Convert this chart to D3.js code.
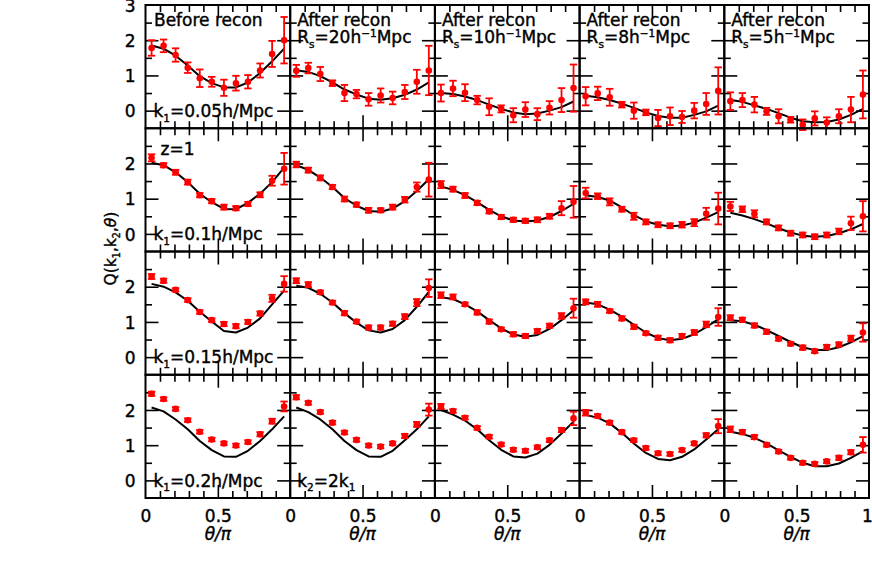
<!DOCTYPE html>
<html>
<head>
<meta charset="utf-8">
<script src="https://d3js.org/d3.v7.min.js"></script>
<style>
  body { margin: 0; background: #fff; }
  text { font-family: "DejaVu Sans", sans-serif; fill: #000; stroke: #000; stroke-width: 0.4px; }
</style>
</head>
<body>
<script>
// bin centres in theta/pi
var thetaBins = [0.042, 0.125, 0.208, 0.292, 0.375, 0.458, 0.542, 0.625, 0.708, 0.792, 0.875, 0.958];

var k1Labels = ["0.05", "0.1", "0.15", "0.2"];
var smoothingRs = [null, "20", "10", "8", "5"];

// k1 = 0.05 h/Mpc, one array per column (before recon, Rs = 20, 10, 8, 5)
var qK005 = [
    [1.78, 1.84, 1.58, 1.22, 0.92, 0.82, 0.65, 0.78, 0.82, 1.14, 1.61, 2.0],
    [1.13, 1.21, 1.04, 0.78, 0.50, 0.47, 0.32, 0.43, 0.36, 0.53, 0.82, 1.14],
    [0.50, 0.63, 0.51, 0.30, 0.11, 0.05, -0.13, 0.03, -0.10, 0.08, 0.30, 0.64],
    [0.41, 0.49, 0.38, 0.17, 0.00, -0.05, -0.21, -0.16, -0.18, 0.00, 0.19, 0.56],
    [0.27, 0.30, 0.17, -0.02, -0.16, -0.26, -0.40, -0.22, -0.34, -0.16, 0.03, 0.46]
];
var errK005 = [
    [0.22, 0.18, 0.19, 0.15, 0.25, 0.14, 0.23, 0.21, 0.19, 0.20, 0.37, 0.66],
    [0.17, 0.15, 0.20, 0.08, 0.23, 0.12, 0.18, 0.20, 0.18, 0.20, 0.34, 0.70],
    [0.24, 0.22, 0.24, 0.12, 0.24, 0.10, 0.20, 0.21, 0.17, 0.19, 0.34, 0.67],
    [0.26, 0.19, 0.24, 0.08, 0.23, 0.08, 0.23, 0.25, 0.17, 0.22, 0.31, 0.67],
    [0.25, 0.20, 0.22, 0.10, 0.20, 0.08, 0.15, 0.20, 0.15, 0.20, 0.36, 0.68]
];
var modelK005 = [
    [1.85, 1.76, 1.56, 1.28, 0.98, 0.78, 0.66, 0.66, 0.80, 1.07, 1.40, 1.76],
    [1.15, 1.10, 0.98, 0.80, 0.60, 0.46, 0.34, 0.31, 0.35, 0.45, 0.60, 0.80],
    [0.50, 0.47, 0.40, 0.30, 0.17, 0.05, -0.05, -0.10, -0.08, 0.00, 0.10, 0.26],
    [0.42, 0.38, 0.30, 0.20, 0.08, -0.05, -0.15, -0.20, -0.20, -0.12, -0.02, 0.14],
    [0.30, 0.25, 0.15, 0.05, -0.07, -0.20, -0.30, -0.33, -0.32, -0.25, -0.12, 0.05]
];

// k1 = 0.1 h/Mpc
var qK010 = [
    [2.16, 1.95, 1.75, 1.47, 1.10, 0.93, 0.76, 0.73, 0.85, 1.11, 1.51, 1.85],
    [1.97, 1.81, 1.59, 1.33, 0.99, 0.83, 0.67, 0.67, 0.76, 0.97, 1.33, 1.54],
    [1.40, 1.27, 1.09, 0.88, 0.64, 0.48, 0.40, 0.37, 0.40, 0.50, 0.73, 0.91],
    [1.16, 1.07, 0.91, 0.70, 0.50, 0.34, 0.26, 0.23, 0.26, 0.32, 0.57, 0.72],
    [0.78, 0.70, 0.57, 0.34, 0.17, 0.02, -0.03, -0.08, -0.03, 0.07, 0.30, 0.50]
];
var errK010 = [
    [0.10, 0.06, 0.07, 0.07, 0.06, 0.06, 0.07, 0.06, 0.06, 0.07, 0.14, 0.45],
    [0.08, 0.07, 0.07, 0.06, 0.07, 0.06, 0.07, 0.06, 0.07, 0.08, 0.13, 0.48],
    [0.10, 0.07, 0.07, 0.06, 0.06, 0.06, 0.06, 0.06, 0.07, 0.07, 0.20, 0.45],
    [0.15, 0.08, 0.10, 0.07, 0.10, 0.07, 0.07, 0.07, 0.08, 0.10, 0.17, 0.45],
    [0.13, 0.08, 0.10, 0.07, 0.07, 0.07, 0.07, 0.07, 0.07, 0.08, 0.19, 0.43]
];
var modelK010 = [
    [2.02, 1.95, 1.75, 1.47, 1.14, 0.90, 0.71, 0.70, 0.88, 1.14, 1.47, 1.88],
    [1.95, 1.82, 1.60, 1.33, 1.02, 0.80, 0.65, 0.63, 0.72, 0.93, 1.22, 1.55],
    [1.35, 1.25, 1.10, 0.90, 0.68, 0.50, 0.38, 0.35, 0.38, 0.48, 0.65, 0.85],
    [1.10, 1.05, 0.95, 0.75, 0.53, 0.36, 0.26, 0.22, 0.24, 0.32, 0.46, 0.62],
    [0.60, 0.52, 0.42, 0.30, 0.16, 0.04, -0.05, -0.08, -0.06, 0.02, 0.13, 0.28]
];

// k1 = 0.15 h/Mpc
var qK015 = [
    [2.29, 2.17, 1.91, 1.62, 1.28, 1.05, 0.94, 0.88, 1.00, 1.24, 1.67, 2.08],
    [2.17, 2.06, 1.84, 1.55, 1.25, 1.01, 0.84, 0.84, 0.95, 1.15, 1.55, 1.96],
    [1.76, 1.71, 1.50, 1.27, 1.01, 0.79, 0.65, 0.60, 0.74, 0.89, 1.17, 1.39],
    [1.57, 1.50, 1.31, 1.10, 0.86, 0.68, 0.55, 0.48, 0.60, 0.70, 0.93, 1.14],
    [1.12, 1.06, 0.90, 0.72, 0.52, 0.38, 0.27, 0.17, 0.29, 0.36, 0.53, 0.70]
];
var errK015 = [
    [0.07, 0.06, 0.05, 0.05, 0.05, 0.05, 0.06, 0.06, 0.06, 0.06, 0.10, 0.22],
    [0.07, 0.07, 0.05, 0.05, 0.06, 0.05, 0.06, 0.06, 0.06, 0.07, 0.10, 0.25],
    [0.08, 0.07, 0.05, 0.06, 0.06, 0.05, 0.06, 0.06, 0.06, 0.06, 0.08, 0.27],
    [0.07, 0.07, 0.05, 0.06, 0.06, 0.05, 0.06, 0.06, 0.06, 0.07, 0.08, 0.25],
    [0.07, 0.06, 0.06, 0.06, 0.05, 0.05, 0.06, 0.05, 0.06, 0.06, 0.08, 0.26]
];
var modelK015 = [
    [2.08, 2.00, 1.84, 1.60, 1.29, 1.01, 0.74, 0.70, 0.84, 1.10, 1.50, 1.89],
    [2.03, 1.97, 1.80, 1.55, 1.25, 0.98, 0.76, 0.70, 0.80, 1.05, 1.43, 1.85],
    [1.70, 1.65, 1.50, 1.30, 1.05, 0.82, 0.64, 0.58, 0.63, 0.80, 1.05, 1.33],
    [1.55, 1.50, 1.35, 1.15, 0.92, 0.70, 0.54, 0.48, 0.52, 0.65, 0.85, 1.08],
    [1.05, 1.02, 0.92, 0.77, 0.60, 0.43, 0.28, 0.20, 0.20, 0.28, 0.42, 0.60]
];

// k1 = 0.2 h/Mpc
var qK020 = [
    [2.46, 2.31, 2.03, 1.71, 1.38, 1.16, 1.05, 0.99, 1.09, 1.31, 1.68, 2.10],
    [2.36, 2.20, 1.94, 1.64, 1.36, 1.15, 0.99, 0.96, 1.05, 1.26, 1.59, 2.01],
    [2.10, 1.97, 1.78, 1.49, 1.24, 1.02, 0.87, 0.84, 0.94, 1.14, 1.43, 1.76],
    [1.92, 1.83, 1.64, 1.37, 1.14, 0.92, 0.77, 0.75, 0.86, 1.05, 1.28, 1.54],
    [1.45, 1.37, 1.23, 1.01, 0.82, 0.64, 0.50, 0.47, 0.54, 0.64, 0.80, 1.01]
];
var errK020 = [
    [0.06, 0.05, 0.05, 0.05, 0.05, 0.05, 0.05, 0.05, 0.05, 0.06, 0.07, 0.14],
    [0.06, 0.05, 0.05, 0.05, 0.05, 0.05, 0.05, 0.05, 0.05, 0.06, 0.07, 0.17],
    [0.07, 0.05, 0.05, 0.05, 0.05, 0.05, 0.05, 0.05, 0.05, 0.05, 0.06, 0.19],
    [0.08, 0.05, 0.05, 0.05, 0.05, 0.05, 0.05, 0.05, 0.05, 0.05, 0.06, 0.20],
    [0.08, 0.06, 0.06, 0.05, 0.05, 0.05, 0.05, 0.05, 0.05, 0.06, 0.06, 0.22]
];
var modelK020 = [
    [2.07, 1.96, 1.73, 1.45, 1.12, 0.86, 0.68, 0.67, 0.84, 1.12, 1.45, 1.82],
    [2.07, 1.94, 1.73, 1.45, 1.12, 0.86, 0.68, 0.67, 0.84, 1.14, 1.45, 1.82],
    [2.00, 1.87, 1.70, 1.45, 1.14, 0.87, 0.68, 0.65, 0.76, 1.01, 1.33, 1.67],
    [1.86, 1.78, 1.62, 1.35, 1.05, 0.78, 0.61, 0.57, 0.67, 0.88, 1.16, 1.45],
    [1.38, 1.32, 1.21, 1.05, 0.85, 0.67, 0.50, 0.40, 0.40, 0.48, 0.64, 0.83]
];

var rows = [
    { k1: k1Labels[0], q: qK005, err: errK005, model: modelK005 },
    { k1: k1Labels[1], q: qK010, err: errK010, model: modelK010 },
    { k1: k1Labels[2], q: qK015, err: errK015, model: modelK015 },
    { k1: k1Labels[3], q: qK020, err: errK020, model: modelK020 }
];
</script>
<script>
// note: "top" is a read-only window property, so keep the margins in their own names
var outerWidth = 872, outerHeight = 586,
    marginLeft = 145.5, marginTop = 5,
    panelW = 144.7, panelH = 123.25,
    nCols = 5, nRows = 4;

var svg = d3.select("body").append("svg")
    .attr("width", outerWidth)
    .attr("height", outerHeight);

var xScale = d3.scaleLinear().domain([0, 1]).range([0, panelW]);
var yScale = d3.scaleLinear().domain([-0.5, 3]).range([panelH, 0]);

var line = d3.line()
    .x(function (d) { return xScale(d.t); })
    .y(function (d) { return yScale(d.v); });

var xMinor = [0.1, 0.2, 0.3, 0.4, 0.6, 0.7, 0.8, 0.9],
    xMajor = [0.5],
    yMinor = [0.5, 1.5, 2.5],
    yMajor = [0, 1, 2];

// rich text: segments of [string, kind] with kind n | sub | sup | i
function richText(sel, segs, size) {
    var shift = 0;
    segs.forEach(function (s) {
        var t = sel.append("tspan").text(s[0]);
        var target = 0;
        if (s[1] === "sub") { target = size * 0.28; t.attr("font-size", size * 0.62); }
        if (s[1] === "sup") { target = -size * 0.38; t.attr("font-size", size * 0.62); }
        if (s[1] === "i") { t.attr("font-style", "italic"); }
        if (target !== shift) { t.attr("dy", target - shift); shift = target; }
    });
}

function ticks(g, axis, vals, len) {
    g.call(axis.tickValues(vals).tickSize(-len).tickFormat(""))
        .call(function (a) { a.select(".domain").remove(); })
        .selectAll("line").attr("stroke", "#000").attr("stroke-width", 1.6);
}

rows.forEach(function (row, r) {
    for (var c = 0; c < nCols; c++) {
        var g = svg.append("g")
            .attr("transform", "translate(" + (marginLeft + c * panelW) + "," + (marginTop + r * panelH) + ")");

        // inward ticks on all four sides
        [[d3.axisBottom(xScale), "translate(0," + panelH + ")", xMinor, 7],
         [d3.axisBottom(xScale), "translate(0," + panelH + ")", xMajor, 13],
         [d3.axisTop(xScale), null, xMinor, 7],
         [d3.axisTop(xScale), null, xMajor, 13],
         [d3.axisLeft(yScale), null, yMinor, 6.5],
         [d3.axisLeft(yScale), null, yMajor, 13],
         [d3.axisRight(yScale), "translate(" + panelW + ",0)", yMinor, 6.5],
         [d3.axisRight(yScale), "translate(" + panelW + ",0)", yMajor, 13]
        ].forEach(function (a) {
            var ag = g.append("g");
            if (a[1]) ag.attr("transform", a[1]);
            ticks(ag, a[0], a[2], a[3]);
        });

        var model = thetaBins.map(function (t, i) { return { t: t, v: row.model[c][i] }; });
        g.append("path")
            .datum(model)
            .attr("fill", "none")
            .attr("stroke", "#000")
            .attr("stroke-width", 2)
            .attr("stroke-linejoin", "round")
            .attr("d", line);

        var pts = thetaBins.map(function (t, i) {
            return { t: t, v: row.q[c][i], e: row.err[c][i] };
        });
        var eg = g.append("g").attr("stroke", "#ff0000").attr("stroke-width", 1.8);
        eg.selectAll("line.bar").data(pts).enter().append("line")
            .attr("x1", function (d) { return xScale(d.t); })
            .attr("x2", function (d) { return xScale(d.t); })
            .attr("y1", function (d) { return yScale(d.v - d.e); })
            .attr("y2", function (d) { return yScale(d.v + d.e); });
        [-1, 1].forEach(function (sgn) {
            eg.selectAll(null).data(pts).enter().append("line")
                .attr("x1", function (d) { return xScale(d.t) - 3.7; })
                .attr("x2", function (d) { return xScale(d.t) + 3.7; })
                .attr("y1", function (d) { return yScale(d.v + sgn * d.e); })
                .attr("y2", function (d) { return yScale(d.v + sgn * d.e); });
        });
        g.append("g").selectAll("circle").data(pts).enter().append("circle")
            .attr("cx", function (d) { return xScale(d.t); })
            .attr("cy", function (d) { return yScale(d.v); })
            .attr("r", 3.3)
            .attr("fill", "#ff0000");

        g.append("rect")
            .attr("width", panelW).attr("height", panelH)
            .attr("fill", "none").attr("stroke", "#000").attr("stroke-width", 2);

        // panel labels
        if (r === 0) {
            var t1 = g.append("text").attr("x", c === 0 ? 8.5 : 7).attr("y", 21).attr("font-size", 17);
            t1.text(c === 0 ? "Before recon" : "After recon");
            if (c > 0) {
                richText(g.append("text").attr("x", 7).attr("y", 38).attr("font-size", 17),
                    [["R", "n"], ["s", "sub"], ["=" + smoothingRs[c] + "h", "n"], ["\u22121", "sup"], ["Mpc", "n"]], 17);
            }
        }
        if (c === 0) {
            richText(g.append("text").attr("x", 8).attr("y", panelH - 11.5).attr("font-size", 17),
                [["k", "n"], ["1", "sub"], ["=" + row.k1 + "h/Mpc", "n"]], 17);
        }
        if (r === 1 && c === 0) {
            g.append("text").attr("x", 15).attr("y", 26.5).attr("font-size", 17).text("z=1");
        }
        if (r === 3 && c === 1) {
            richText(g.append("text").attr("x", 7).attr("y", panelH - 11.5).attr("font-size", 17),
                [["k", "n"], ["2", "sub"], ["=2k", "n"], ["1", "sub"]], 17);
        }

        // axis numbers
        if (c === 0) {
            g.append("g")
                .call(d3.axisLeft(yScale).tickValues(r === 0 ? [0, 1, 2, 3] : yMajor).tickSize(0).tickPadding(10).tickFormat(d3.format("d")))
                .call(function (a) { a.select(".domain").remove(); })
                .selectAll("text").attr("font-size", 17).attr("font-family", "DejaVu Sans").attr("dy", "0.36em");
        }
        if (r === nRows - 1) {
            var xl = g.append("g")
                .attr("transform", "translate(0," + panelH + ")")
                .call(d3.axisBottom(xScale).tickValues(c === nCols - 1 ? [0, 0.5, 1] : [0, 0.5]).tickSize(0).tickPadding(11.5).tickFormat(d3.format("")))
                .call(function (a) { a.select(".domain").remove(); });
            xl.selectAll("text").attr("font-size", 17).attr("font-family", "DejaVu Sans")
                .attr("dx", function (d) { return d === 1 ? -2 : 0; });
            richText(g.append("text").attr("x", panelW / 2).attr("y", panelH + 42)
                .attr("text-anchor", "middle").attr("font-size", 17),
                [["\u03b8/\u03c0", "i"]], 17);
        }
    }
});

// y axis title
richText(svg.append("text")
    .attr("transform", "translate(116," + (marginTop + nRows * panelH / 2 - 3) + ") rotate(-90)")
    .attr("text-anchor", "middle")
    .attr("font-size", 15.5),
    [["Q(k", "n"], ["1", "sub"], [",k", "n"], ["2", "sub"], [",", "n"], ["\u03b8", "i"], [")", "n"]], 15.5);
</script>
</body>
</html>
